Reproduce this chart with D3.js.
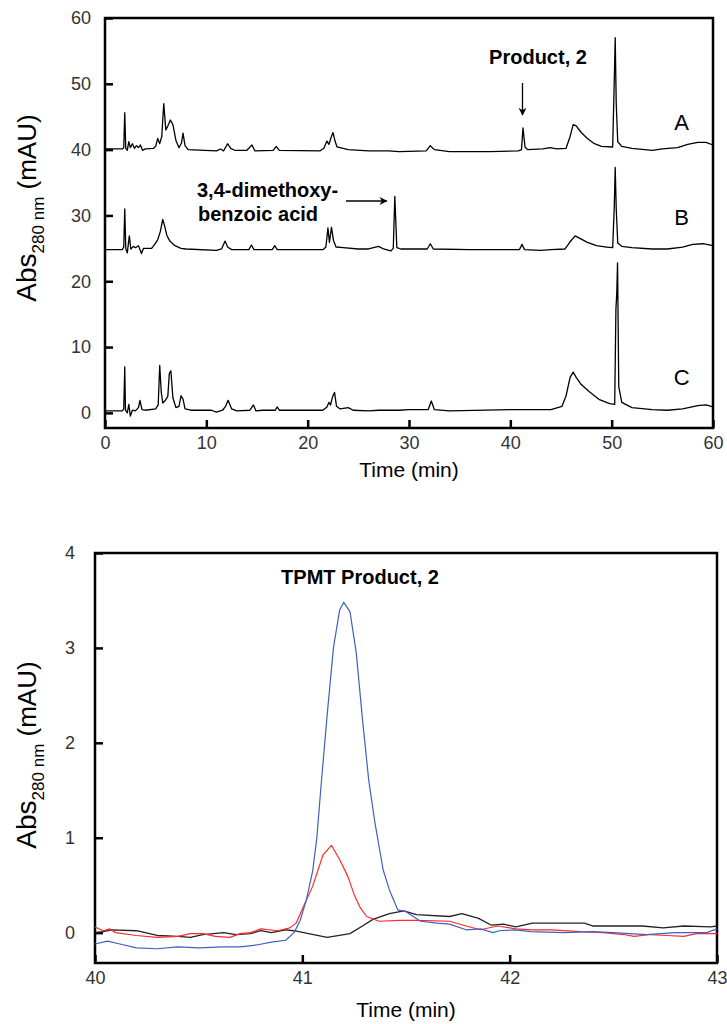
<!DOCTYPE html>
<html>
<meta charset="utf-8">
<style>
  body { margin: 0; background: #fff; }
  text { font-family: "Liberation Sans", Arial, sans-serif; }
</style>
<script src="https://d3js.org/d3.v7.min.js"></script>
<body>
<script>
  var svgWidth = 727, svgHeight = 1024;

  // top panel: full chromatograms, traces offset (A at 40, B at 25, C at 0)
  var topXTicks = [0, 10, 20, 30, 40, 50, 60];
  var topYTicks = [0, 10, 20, 30, 40, 50, 60];
  var traceA = [[0,40.1],[1.7,40.1],[1.85,40.3],[1.95,45.6],[2.05,40.2],[2.2,39.9],[2.35,41.2],[2.5,40.3],[2.7,40.9],[2.9,40.2],[3.1,40.6],[3.3,40.3],[3.5,40.7],[3.7,39.9],[4.0,40.1],[4.8,40.2],[5.0,40.5],[5.2,41.7],[5.4,40.9],[5.6,42.0],[5.8,47.0],[6.0,43.0],[6.2,43.6],[6.45,44.5],[6.7,43.8],[7.0,41.4],[7.3,40.3],[7.55,41.0],[7.7,42.5],[7.9,40.6],[8.2,40.0],[11.0,39.8],[11.4,40.1],[11.7,39.8],[12.1,40.9],[12.4,40.2],[12.8,39.9],[14.0,39.9],[14.5,40.7],[14.8,39.8],[16.6,39.9],[16.9,40.5],[17.2,39.9],[21.2,39.8],[21.6,40.2],[21.9,41.3],[22.1,40.8],[22.3,41.8],[22.5,42.6],[22.7,41.3],[22.9,40.4],[23.5,40.2],[24.0,40.0],[26.0,39.8],[27,39.8],[28,39.8],[29,39.7],[31.7,39.8],[32.1,40.6],[32.5,40.0],[34,39.7],[38,39.7],[40.8,39.8],[41.1,40.0],[41.25,43.3],[41.45,40.4],[41.7,40.0],[43.2,40.1],[43.9,40.3],[44.6,40.1],[45.5,40.2],[45.9,42.0],[46.2,43.8],[46.5,43.6],[47.0,42.6],[47.6,41.7],[48.3,40.9],[49.0,40.5],[50.1,40.4],[50.25,50],[50.35,57],[50.45,47],[50.6,41.2],[51.0,40.5],[52,40.2],[54,39.9],[55,40.1],[56.5,40.3],[57.5,40.8],[58.5,41.1],[59.3,41.1],[60,40.7]];
  var traceB = [[0,24.8],[1.7,24.8],[1.85,25.2],[1.95,31.0],[2.05,25.0],[2.2,24.3],[2.4,26.9],[2.55,24.9],[2.8,25.3],[3.0,25.1],[3.3,25.4],[3.6,24.2],[3.8,25.0],[4.6,25.0],[4.9,25.6],[5.2,26.3],[5.45,27.5],[5.7,29.4],[5.9,28.3],[6.1,27.0],[6.4,26.1],[6.9,25.4],[7.5,25.0],[8.0,24.9],[11.0,24.7],[11.5,24.9],[11.85,26.1],[12.1,25.2],[12.5,24.8],[14.2,24.8],[14.45,25.5],[14.7,24.8],[16.5,24.8],[16.75,25.4],[17.0,24.8],[21.5,24.8],[21.8,25.2],[22.0,28.1],[22.15,25.9],[22.35,28.2],[22.55,26.2],[22.8,25.2],[23.5,25.1],[25,24.9],[26,24.9],[27.0,25.3],[27.5,24.9],[28.2,24.6],[28.45,25.0],[28.6,32.9],[28.8,25.1],[29.2,24.9],[31.8,24.9],[32.1,25.7],[32.4,24.9],[36,24.8],[40.9,24.8],[41.15,25.6],[41.4,24.8],[43,24.7],[44,24.8],[45.4,24.9],[45.9,26.0],[46.4,26.9],[47,26.4],[47.6,25.9],[48.5,25.4],[49.5,25.2],[50.1,25.1],[50.25,31],[50.35,37.3],[50.45,31],[50.6,25.8],[51.0,25.3],[52,25.1],[54,24.9],[55.5,24.9],[57,25.2],[58,25.6],[59,25.7],[60,25.4]];
  var traceC = [[0,0.3],[1.7,0.3],[1.85,0.6],[1.95,7.0],[2.02,0.4],[2.2,0.0],[2.35,1.3],[2.5,-0.5],[2.7,0.4],[3.0,0.3],[3.3,0.8],[3.45,1.9],[3.65,0.5],[4.0,0.4],[5.0,0.6],[5.25,1.2],[5.4,7.2],[5.55,3.2],[5.7,1.5],[5.9,1.8],[6.2,2.5],[6.35,6.0],[6.5,6.4],[6.7,2.3],[7.0,0.8],[7.3,1.0],[7.5,2.6],[7.7,2.1],[7.9,0.6],[8.5,0.4],[10.5,0.4],[11,0.1],[11.6,0.4],[11.9,1.0],[12.15,1.9],[12.5,0.6],[13,0.3],[14.3,0.4],[14.65,1.2],[14.9,0.3],[15.5,0.4],[16.8,0.4],[17.0,0.9],[17.2,0.4],[21.5,0.4],[21.9,0.9],[22.1,1.6],[22.25,1.2],[22.45,2.4],[22.65,3.1],[22.85,1.0],[23.2,0.6],[24.0,0.8],[24.5,0.4],[26,0.3],[27,0.4],[29,0.4],[30,0.5],[31.9,0.5],[32.2,1.8],[32.5,0.5],[34,0.3],[40,0.5],[44,0.5],[45.1,1.0],[45.5,2.6],[45.9,5.4],[46.2,6.2],[46.5,5.4],[47.0,4.3],[47.8,3.2],[48.8,2.0],[49.8,1.4],[50.3,1.3],[50.42,15.8],[50.5,18],[50.58,22.8],[50.7,4.0],[51.0,1.6],[52,0.8],[54,0.5],[55.5,0.4],[57,0.6],[58.5,1.1],[59.3,1.2],[60,0.9]];
  var traceLabels = [["A", 44.2], ["B", 29.8], ["C", 5.5]];

  // bottom panel: 40-43 min zoom on product peak
  var botXTicks = [40, 41, 42, 43];
  var botYTicks = [0, 1, 2, 3, 4];
  var blueTrace = [[40,-0.12],[40.06,-0.09],[40.12,-0.12],[40.2,-0.16],[40.3,-0.17],[40.4,-0.15],[40.5,-0.16],[40.62,-0.15],[40.7,-0.15],[40.78,-0.13],[40.85,-0.1],[40.92,-0.08],[40.96,0.0],[40.99,0.13],[41.02,0.35],[41.05,0.65],[41.07,1.0],[41.09,1.54],[41.12,2.3],[41.15,3.0],[41.18,3.4],[41.2,3.48],[41.23,3.38],[41.26,2.95],[41.29,2.25],[41.32,1.61],[41.35,1.16],[41.39,0.66],[41.42,0.45],[41.46,0.24],[41.5,0.22],[41.57,0.12],[41.65,0.1],[41.71,0.09],[41.79,0.03],[41.86,0.04],[41.92,0.0],[41.95,0.02],[42.03,0.03],[42.1,0.01],[42.26,0.0],[42.4,0.01],[42.5,0.0],[42.66,-0.02],[42.8,0.0],[42.95,0.0],[43,0.04]];
  var redTrace = [[40,0.06],[40.04,0.02],[40.07,0.04],[40.1,0.0],[40.2,-0.03],[40.3,-0.05],[40.4,-0.04],[40.46,-0.01],[40.52,-0.01],[40.58,-0.04],[40.65,-0.05],[40.7,-0.01],[40.75,0.0],[40.8,0.04],[40.88,0.02],[40.94,0.05],[40.97,0.1],[41.0,0.25],[41.05,0.49],[41.1,0.82],[41.14,0.92],[41.18,0.77],[41.22,0.59],[41.25,0.4],[41.28,0.26],[41.31,0.17],[41.37,0.12],[41.47,0.13],[41.55,0.13],[41.71,0.12],[41.79,0.07],[41.86,0.03],[41.94,0.07],[42.03,0.04],[42.11,0.03],[42.2,0.03],[42.34,0.01],[42.45,0.0],[42.55,-0.02],[42.6,-0.04],[42.68,-0.02],[42.76,-0.03],[42.84,-0.04],[42.9,-0.01],[43,-0.01]];
  var blackTrace = [[40,0.0],[40.04,0.01],[40.08,0.03],[40.2,0.02],[40.3,-0.03],[40.4,-0.04],[40.46,-0.05],[40.52,-0.02],[40.62,0.0],[40.68,-0.02],[40.75,-0.01],[40.8,0.02],[40.85,0.0],[40.92,0.03],[40.96,0.02],[41.03,-0.01],[41.12,-0.05],[41.23,-0.01],[41.29,0.07],[41.34,0.14],[41.42,0.2],[41.49,0.23],[41.55,0.19],[41.71,0.17],[41.77,0.2],[41.85,0.15],[41.91,0.08],[41.97,0.09],[42.03,0.06],[42.11,0.1],[42.36,0.1],[42.4,0.07],[42.64,0.07],[42.74,0.05],[42.84,0.07],[42.97,0.06],[43,0.07]];

  var svg = d3.select("body")
    .append("svg")
    .attr("width", svgWidth)
    .attr("height", svgHeight);

  function panel(box, xDomain, yDomain, xTicks, yTicks, yPad) {
    var x = d3.scaleLinear().domain(xDomain).range([box.left, box.right]);
    var y = d3.scaleLinear().domain(yDomain).range([box.bottom, box.top]);

    svg.append("g")
      .attr("class", "axis")
      .attr("transform", "translate(0," + box.bottom + ")")
      .call(d3.axisBottom(x).tickValues(xTicks).tickSize(-8).tickPadding(8).tickFormat(d3.format("d")));

    svg.append("g")
      .attr("class", "axis")
      .attr("transform", "translate(" + box.left + ",0)")
      .call(d3.axisLeft(y).tickValues(yTicks).tickSize(-8).tickPadding(yPad).tickFormat(d3.format("d")));

    svg.selectAll(".axis .domain").remove();
    svg.selectAll(".axis line").attr("stroke", "#000").attr("stroke-width", 2.5);
    svg.selectAll(".axis text").attr("font-size", 18).attr("fill", "#333");

    svg.append("rect")
      .attr("x", box.left).attr("y", box.top)
      .attr("width", box.right - box.left).attr("height", box.bottom - box.top)
      .attr("fill", "none").attr("stroke", "#000").attr("stroke-width", 2.5);

    return {x: x, y: y};
  }

  function yLabel(cx, cy) {
    var t = svg.append("text")
      .attr("transform", "translate(" + cx + "," + cy + ") rotate(-90)")
      .attr("text-anchor", "middle")
      .attr("font-size", 28);
    t.append("tspan").text("Abs");
    t.append("tspan").attr("font-size", 17).attr("dy", 8).text("280 nm");
    t.append("tspan").attr("font-size", 26).attr("dy", -8).text(" (mAU)");
  }

  function drawLine(s, data, color, width) {
    var line = d3.line()
      .x(function(d){ return s.x(d[0]); })
      .y(function(d){ return s.y(d[1]); });
    svg.append("path")
      .datum(data)
      .attr("d", line)
      .attr("fill", "none")
      .attr("stroke", color)
      .attr("stroke-width", width)
      .attr("stroke-linejoin", "round");
  }

  function arrow(x1, y1, x2, y2) {
    svg.append("line")
      .attr("x1", x1).attr("y1", y1).attr("x2", x2).attr("y2", y2)
      .attr("stroke", "#000").attr("stroke-width", 1.3)
      .attr("marker-end", "url(#head)");
  }

  svg.append("defs").append("marker")
    .attr("id", "head")
    .attr("viewBox", "0 0 10 10")
    .attr("refX", 9).attr("refY", 5)
    .attr("markerWidth", 9).attr("markerHeight", 8)
    .attr("markerUnits", "userSpaceOnUse")
    .attr("orient", "auto")
    .append("path")
    .attr("d", "M0,0 L10,5 L0,10 L3,5 Z")
    .attr("fill", "#000");

  // ---- top panel ----
  var upper = panel({left: 105, right: 713, top: 18, bottom: 428}, [0, 60], [-2.3, 60], topXTicks, topYTicks, 14);
  drawLine(upper, traceA, "#000", 1.3);
  drawLine(upper, traceB, "#000", 1.3);
  drawLine(upper, traceC, "#000", 1.3);

  svg.selectAll(".tlabel")
    .data(traceLabels)
    .enter()
    .append("text")
    .attr("class", "tlabel")
    .attr("x", upper.x(56.9))
    .attr("y", function(d){ return upper.y(d[1]); })
    .attr("dy", "0.36em")
    .attr("text-anchor", "middle")
    .attr("font-size", 22)
    .text(function(d){ return d[0]; });

  svg.append("text")
    .attr("x", 538).attr("y", 64)
    .attr("text-anchor", "middle")
    .attr("font-size", 20).attr("font-weight", "bold")
    .text("Product, 2");
  arrow(upper.x(41.2), 83, upper.x(41.2), 115);

  svg.append("text")
    .attr("x", 197).attr("y", 197)
    .attr("font-size", 20).attr("font-weight", "bold")
    .text("3,4-dimethoxy-");
  svg.append("text")
    .attr("x", 198).attr("y", 221)
    .attr("font-size", 20).attr("font-weight", "bold")
    .text("benzoic acid");
  arrow(346, 201, upper.x(27.8), 201);

  svg.append("text")
    .attr("x", (105 + 713) / 2).attr("y", 477)
    .attr("text-anchor", "middle")
    .attr("font-size", 21)
    .text("Time (min)");
  yLabel(36, 208);

  // ---- bottom panel ----
  var lower = panel({left: 95, right: 717, top: 553, bottom: 963}, [40, 43], [-0.32, 4], botXTicks, botYTicks, 20);
  drawLine(lower, blackTrace, "#222", 1.3);
  drawLine(lower, redTrace, "#ff2a2a", 1.2);
  drawLine(lower, blueTrace, "#4060c0", 1.2);

  svg.append("text")
    .attr("x", 360).attr("y", 584)
    .attr("text-anchor", "middle")
    .attr("font-size", 20).attr("font-weight", "bold")
    .text("TPMT Product, 2");

  svg.append("text")
    .attr("x", (95 + 717) / 2).attr("y", 1017)
    .attr("text-anchor", "middle")
    .attr("font-size", 21)
    .text("Time (min)");
  yLabel(36, 755);
</script>
</body>
</html>
